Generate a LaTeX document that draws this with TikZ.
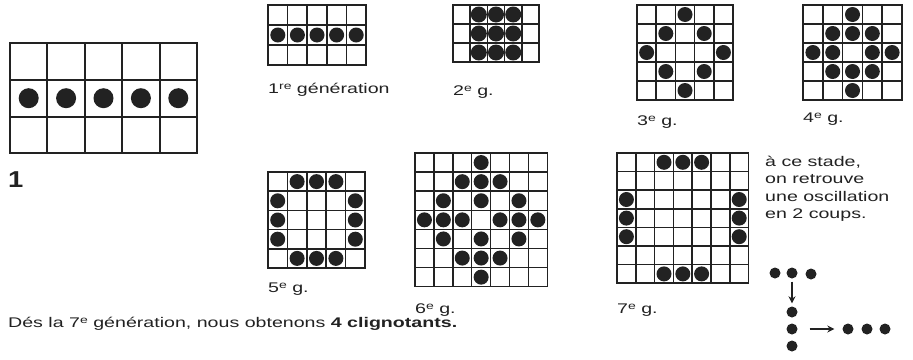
\documentclass[tikz,border=0pt]{standalone}
\usepackage{graphicx}
\usepackage{fontspec}
\setmainfont{Liberation Sans}[FakeStretch=1.4]
\usetikzlibrary{arrows.meta}
\definecolor{ink}{HTML}{222222}

% small raised ordinal, as in the printed labels
\newcommand{\ordsup}[1]{\raisebox{0.28em}{\fontsize{10}{10}\selectfont #1}}

% #1 extra style, #2 x, #3 y, #4 cols, #5 rows,
% #6 cell width, #7 cell height, #8 dot radius, #9 live cells (col/row)
\newcommand{\lifegrid}[9][]{%
  \begin{scope}[shift={(#2,#3)}, x=#6pt, y=-#7pt, #1]
    \foreach \col in {0,...,#4} \draw[gridline] (\col,0) -- (\col,#5);
    \foreach \row in {0,...,#5} \draw[gridline] (0,\row) -- (#4,\row);
    \foreach \col/\row in {#9} \fill[cell] (\col-0.5,\row-0.5) circle[radius=#8pt];
  \end{scope}}

\begin{document}
\begin{tikzpicture}[
  x=1pt, y=-1pt,
  font=\fontsize{14}{17.4}\selectfont,
  gridline/.style={draw=ink,line width=1.5pt,line cap=rect},
  cell/.style={fill=ink},
  lbl/.style={anchor=base west,inner sep=0pt,text=ink},
  blip/.style={circle,fill=ink,inner sep=0pt,minimum size=11pt},
  ar/.style={-{Stealth[length=7pt,width=7pt]},line width=1.5pt,draw=ink}
]
\useasboundingbox[fill=white] (0,0) rectangle (913,359);

%% ---- starting line of five --------------------------------------------
\lifegrid[gridline/.append style={line width=2pt}]{10}{43}{5}{3}{37.4}{36.8}{10}
  {1/2,2/2,3/2,4/2,5/2}
\node[lbl,font=\fontsize{23}{23}\selectfont\bfseries] (start) at (8,187)
  {\scalebox{0.85}[1]{1}};

%% ---- top row: generations 1 to 4 --------------------------------------
\lifegrid{268}{5}{5}{3}{19.6}{20}{7.5}{1/2,2/2,3/2,4/2,5/2}
\node[lbl] (gen1) at (268,93) {1\ordsup{re} génération};

\lifegrid{453}{5}{5}{3}{17.2}{19}{8}{2/1,3/1,4/1,2/2,3/2,4/2,2/3,3/3,4/3}
\node[lbl] (gen2) at (453,95) {2\ordsup{e} g.};

\lifegrid{637}{5}{5}{5}{19.2}{19}{7.5}{3/1,2/2,4/2,1/3,5/3,2/4,4/4,3/5}
\node[lbl] (gen3) at (637,125) {3\ordsup{e} g.};

\lifegrid{803}{5}{5}{5}{19.8}{19}{7.5}
  {3/1,2/2,3/2,4/2,1/3,2/3,4/3,5/3,2/4,3/4,4/4,3/5}
\node[lbl] (gen4) at (803,122) {4\ordsup{e} g.};

%% ---- bottom row: generations 5 to 7 -----------------------------------
\lifegrid{268}{172}{5}{5}{19.4}{19.2}{7.5}
  {2/1,3/1,4/1,1/2,5/2,1/3,5/3,1/4,5/4,2/5,3/5,4/5}
\node[lbl] (gen5) at (268,292) {5\ordsup{e} g.};

\lifegrid{415}{153}{7}{7}{18.9}{19.1}{7.5}
  {4/1,3/2,4/2,5/2,2/3,4/3,6/3,1/4,2/4,3/4,5/4,6/4,7/4,2/5,4/5,6/5,3/6,4/6,5/6,4/7}
\node[lbl] (gen6) at (415,313) {6\ordsup{e} g.};

\lifegrid{617}{153}{7}{7}{18.8}{18.6}{7.5}
  {3/1,4/1,5/1,1/3,1/4,1/5,7/3,7/4,7/5,3/7,4/7,5/7}
\node[lbl] (gen7) at (617,313) {7\ordsup{e} g.};

%% ---- note and the blinker ----------------------------------------------
\node[lbl,anchor=north west,align=left] (note) at (765,156)
  {à ce stade,\\on retrouve\\une oscillation\\en 2 coups.};

\node[blip] (t1) at (775,273) {};
\node[blip] (t2) at (792,273) {};
\node[blip] (t3) at (811,274) {};
\node[blip] (v1) at (792,312) {};
\node[blip] (v2) at (792,329) {};
\node[blip] (v3) at (792,346) {};
\node[blip] (h1) at (848,329) {};
\node[blip] (h2) at (867,329) {};
\node[blip] (h3) at (885,329) {};
\draw[ar,shorten <=3pt,shorten >=3pt] (t2) -- (v1);
\draw[ar,shorten <=12pt,shorten >=8pt] (v2) -- (h1);

\node[lbl] (summary) at (8,327)
  {Dés la 7\ordsup{e} génération, nous obtenons \textbf{4 clignotants.}};
\end{tikzpicture}
\end{document}
